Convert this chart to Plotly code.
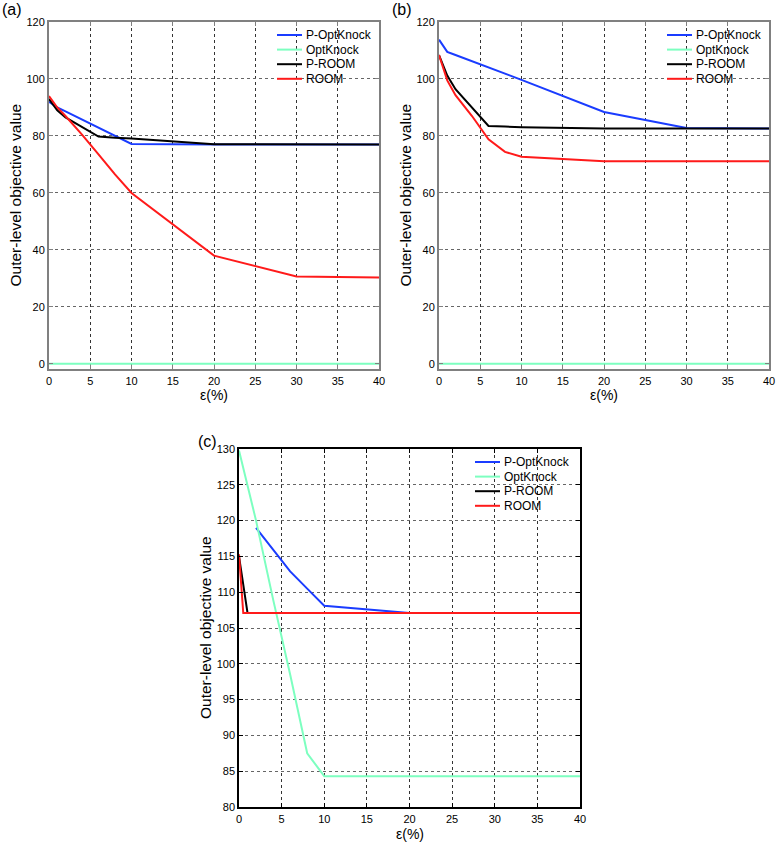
import plotly.graph_objects as go

# ---------------- data ----------------
series_names = ["P-OptKnock", "OptKnock", "P-ROOM", "ROOM"]
series_colors = ["#1a3cff", "#7dffc0", "#000000", "#ff1a1a"]

# panel (a)
a_eps = [0, 1, 2, 4, 6, 8, 10, 20, 30, 40]
a_p_optknock = [92, 90, 88.6, 85.7, 82.9, 80.0, 77.2, 77, 77, 77]
a_optknock = [0, 0, 0, 0, 0, 0, 0, 0, 0, 0]
a_p_room = [93, 89, 86.5, 83.1, 79.8, 79.4, 79.1, 77.1, 77, 77]
a_room = [94, 90, 87, 80.5, 73.5, 66.5, 60, 38, 30.7, 30.3]

# panel (b)
b_eps = [0, 1, 2, 4, 6, 8, 10, 20, 30, 40]
b_p_optknock = [113.8, 109.5, 108.4, 106.2, 104.1, 101.9, 99.7, 88.4, 82.8, 82.6]
b_optknock = [0, 0, 0, 0, 0, 0, 0, 0, 0, 0]
b_p_room = [108.4, 101.2, 96.4, 90, 83.5, 83.3, 83.1, 82.6, 82.6, 82.6]
b_room = [108.4, 99.5, 94.3, 87, 78.8, 74.4, 72.7, 71.1, 71.1, 71.1]

# panel (c)
c_eps_p_optknock = [2, 4, 6, 8, 10, 20, 30, 40]
c_p_optknock = [119, 116, 112.9, 110.5, 108.1, 107.1, 107.1, 107.1]
c_eps_optknock = [0, 2, 4, 6, 8, 10, 20, 30, 40]
c_optknock = [129.8, 120, 109, 98.5, 87.5, 84.3, 84.3, 84.3, 84.3]
c_eps_p_room = [0, 1, 2, 4, 6, 8, 10, 20, 30, 40]
c_p_room = [115, 107.1, 107.1, 107.1, 107.1, 107.1, 107.1, 107.1, 107.1, 107.1]
c_eps_room = [0, 0.5, 1, 2, 4, 6, 8, 10, 20, 30, 40]
c_room = [115.3, 107.1, 107.1, 107.1, 107.1, 107.1, 107.1, 107.1, 107.1, 107.1, 107.1]

x_ticks = [0, 5, 10, 15, 20, 25, 30, 35, 40]
ab_y_ticks = [0, 20, 40, 60, 80, 100, 120]
c_y_ticks = [80, 85, 90, 95, 100, 105, 110, 115, 120, 125, 130]

panel_labels = ["(a)", "(b)", "(c)"]
y_title = "Outer-level objective value"
x_title = "ε(%)"

# ---------------- figure ----------------
W, H = 776, 842
FONT = "Liberation Sans, Arial, sans-serif"
fig = go.Figure()

panels = [
    dict(xs=[a_eps] * 4, ys=[a_p_optknock, a_optknock, a_p_room, a_room],
         xa="x", ya="y"),
    dict(xs=[b_eps] * 4, ys=[b_p_optknock, b_optknock, b_p_room, b_room],
         xa="x2", ya="y2"),
    dict(xs=[c_eps_p_optknock, c_eps_optknock, c_eps_p_room, c_eps_room],
         ys=[c_p_optknock, c_optknock, c_p_room, c_room],
         xa="x3", ya="y3"),
]

for p in panels:
    for name, col, xv, yv in zip(series_names, series_colors, p["xs"], p["ys"]):
        fig.add_trace(go.Scatter(
            x=xv, y=yv, mode="lines", name=name,
            line=dict(color=col, width=2),
            xaxis=p["xa"], yaxis=p["ya"], showlegend=False,
        ))

def px_x(v):
    return min(1.0, max(0.0, v / W))

def px_y(v):
    return min(1.0, max(0.0, 1 - v / H))

# pixel geometry (window coords) of the plot areas
geo = {
    "a": dict(x0=49, x1=379, y0=22, y1=369),
    "b": dict(x0=439, x1=769, y0=22, y1=369),
    "c": dict(x0=239, x1=580, y0=449, y1=807),
}

def xaxis_style(g, anchor, frame_col, frame_w):
    return dict(
        domain=[px_x(g["x0"]), px_x(g["x1"])], anchor=anchor, automargin=False,
        range=[0, 40], tickvals=x_ticks, ticks="inside", ticklen=4,
        tickcolor=frame_col, showline=True, linecolor=frame_col,
        linewidth=frame_w, mirror="ticks", showgrid=True,
        gridcolor="#333333", griddash="dot", gridwidth=1, zeroline=False,
        ticklabelstandoff=1,
        tickfont=dict(size=11, family=FONT, color="#000"),
    )

def yaxis_style(g, anchor, rng, ticks, frame_col, frame_w):
    return dict(
        domain=[px_y(g["y1"]), px_y(g["y0"])], anchor=anchor, automargin=False,
        range=rng, tickvals=ticks, ticks="inside", ticklen=4,
        tickcolor=frame_col, showline=True, linecolor=frame_col,
        linewidth=frame_w, mirror="ticks", showgrid=True,
        gridcolor="#666666", griddash="dot", gridwidth=1, zeroline=False,
        tickfont=dict(size=11, family=FONT, color="#000"),
    )

gray = "#808080"
fig.update_layout(
    width=W, height=H, margin=dict(l=0, r=0, t=0, b=0),
    paper_bgcolor="white", plot_bgcolor="white", showlegend=False,
    font=dict(family=FONT, color="#000"),
    xaxis=xaxis_style(geo["a"], "y", gray, 2),
    yaxis=yaxis_style(geo["a"], "x", [-1.8, 120], ab_y_ticks, gray, 2),
    xaxis2=xaxis_style(geo["b"], "y2", gray, 2),
    yaxis2=yaxis_style(geo["b"], "x2", [-1.8, 120], ab_y_ticks, gray, 2),
    xaxis3=xaxis_style(geo["c"], "y3", "#000000", 1.5),
    yaxis3=yaxis_style(geo["c"], "x3", [80, 130], c_y_ticks, "#000000", 1.5),
)

ann = []
shapes = []
# legends (key lines + labels, one per panel)
for lx, ly in [(277, 35), (667, 35), (475, 462)]:
    for i, (name, col) in enumerate(zip(series_names, series_colors)):
        yy = ly + i * 14.6
        shapes.append(dict(type="line", xref="paper", yref="paper",
                           x0=px_x(lx), x1=px_x(lx + 25), y0=px_y(yy), y1=px_y(yy),
                           line=dict(color=col, width=2)))
        ann.append(dict(text=name, x=px_x(lx + 27), y=px_y(yy), xref="paper", yref="paper",
                        xanchor="left", yanchor="middle", showarrow=False,
                        font=dict(size=12, family=FONT)))

for lbl, (lx, ly) in zip(panel_labels, [(0, 9), (390, 9), (196, 441)]):
    ann.append(dict(text=lbl, x=px_x(lx), y=px_y(ly), xref="paper", yref="paper",
                    xanchor="left", yanchor="middle", showarrow=False,
                    font=dict(size=16, family=FONT)))
for key, ty in [("a", 395), ("b", 395), ("c", 834)]:
    g = geo[key]
    ann.append(dict(text=x_title, x=px_x((g["x0"] + g["x1"]) / 2), y=px_y(ty),
                    xref="paper", yref="paper", xanchor="center", yanchor="middle",
                    showarrow=False, font=dict(size=14, family=FONT)))
for key, tx in [("a", 15), ("b", 405), ("c", 205)]:
    g = geo[key]
    ann.append(dict(text=y_title, x=px_x(tx), y=px_y((g["y0"] + g["y1"]) / 2),
                    xref="paper", yref="paper", xanchor="center", yanchor="middle",
                    textangle=-90, showarrow=False, font=dict(size=15.5, family=FONT)))
fig.update_layout(annotations=ann, shapes=shapes)

# remove the default page margin so the figure fills the window exactly
fig.write_html("out.html", config={"displayModeBar": False},
               post_script="document.body.style.margin='0px';")
